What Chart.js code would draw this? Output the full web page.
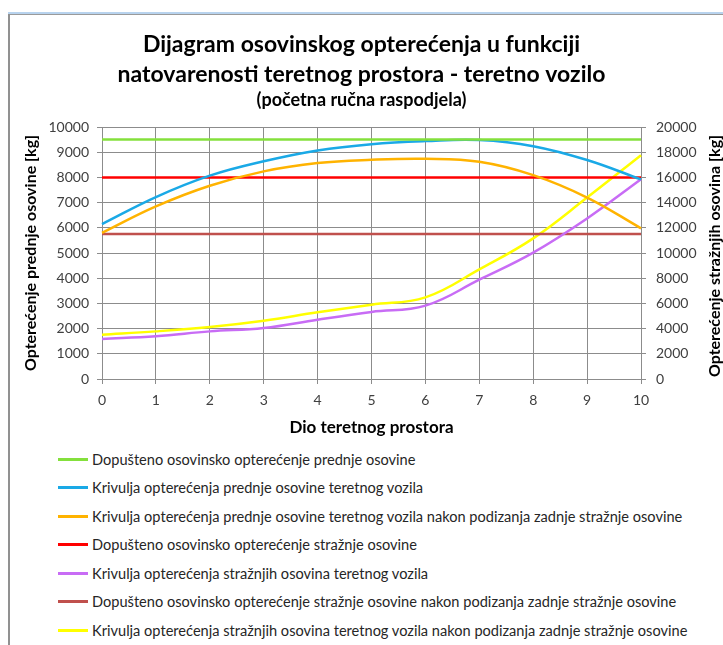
<!DOCTYPE html>
<html lang="hr">
<head>
    <meta charset="UTF-8">
    <title>Dijagram osovinskog opterećenja</title>
    <script src="https://cdn.jsdelivr.net/npm/chart.js@4.4.1/dist/chart.umd.min.js"></script>
    <style>
        body {
            margin: 0;
            background: #ffffff;
            font-family: Lato, sans-serif;
        }
        .page {
            position: relative;
            width: 723px;
            height: 645px;
            overflow: hidden;
        }
        .frame-top {
            position: absolute;
            left: 8px;
            top: 12px;
            width: 715px;
            height: 2px;
            background: #b8d3ee;
            border-bottom: 1px solid #9a9a9a;
        }
        .frame-left {
            position: absolute;
            left: 8px;
            top: 14px;
            width: 2px;
            height: 640px;
            background: #919191;
        }
        .chart-box {
            position: absolute;
            left: 0;
            top: 0;
            width: 723px;
            height: 445px;
        }
        #legend {
            position: absolute;
            left: 58px;
            top: 445px;
        }
        .legend-row {
            display: flex;
            align-items: center;
            height: 28.5px;
            font-size: 14.6px;
            color: #262626;
            white-space: nowrap;
        }
        .legend-line {
            width: 30px;
            height: 3px;
            margin-right: 4px;
        }
    </style>
</head>
<body>
<div class="page">
    <div class="chart-box"><canvas id="chart"></canvas></div>
    <div class="frame-top"></div>
    <div class="frame-left"></div>
    <div id="legend"></div>
</div>

<script>
    // x = dio teretnog prostora
    const xLabels = ['0', '1', '2', '3', '4', '5', '6', '7', '8', '9', '10'];

    // prednja osovina [kg] - lijeva os
    const dopustenoPrednja = [9500, 9500, 9500, 9500, 9500, 9500, 9500, 9500, 9500, 9500, 9500];
    const prednjaOsovina = [6150, 7220, 8070, 8640, 9070, 9320, 9440, 9480, 9240, 8690, 7920];
    const prednjaNakonPodizanja = [5800, 6850, 7670, 8240, 8570, 8700, 8740, 8620, 8090, 7200, 5980];

    // straznje osovine [kg] - desna os
    const dopustenoStraznja = [16000, 16000, 16000, 16000, 16000, 16000, 16000, 16000, 16000, 16000, 16000];
    const straznjeOsovine = [3180, 3390, 3780, 4050, 4710, 5320, 5820, 7880, 10030, 12740, 15850];
    const dopustenoStraznjaNakon = [11500, 11500, 11500, 11500, 11500, 11500, 11500, 11500, 11500, 11500, 11500];
    const straznjeNakonPodizanja = [3520, 3780, 4130, 4630, 5290, 5900, 6480, 8700, 11160, 14400, 17760];

    const rightTitle = 'Opterećenje stražnjih osovina [kg]';

    function line(label, data, color, axis, smooth) {
        return {
            label: label,
            data: data,
            borderColor: color,
            backgroundColor: color,
            borderWidth: 2.5,
            pointRadius: 0,
            tension: smooth ? 0.4 : 0,
            fill: false,
            yAxisID: axis
        };
    }

    // desni naslov osi, citljiv odozdo prema gore kao i lijevi
    const rightTitlePlugin = {
        id: 'rightTitle',
        afterDraw(chart) {
            const area = chart.chartArea;
            const ctx = chart.ctx;
            ctx.save();
            ctx.translate(715, (area.top + area.bottom) / 2 + 3);
            ctx.rotate(-Math.PI / 2);
            ctx.font = 'bold 16px Lato';
            ctx.fillStyle = '#000000';
            ctx.textAlign = 'center';
            ctx.textBaseline = 'middle';
            ctx.fillText(rightTitle, 0, 0);
            ctx.restore();
        }
    };

    const tickFont = { family: 'Lato', size: 14 };
    const plain = v => String(v);

    const chart = new Chart(document.getElementById('chart'), {
        type: 'line',
        data: {
            labels: xLabels,
            datasets: [
                line('Dopušteno osovinsko opterećenje prednje osovine', dopustenoPrednja, '#84e03c', 'y', false),
                line('Krivulja opterećenja prednje osovine teretnog vozila', prednjaOsovina, '#1aa9e6', 'y', true),
                line('Krivulja opterećenja prednje osovine teretnog vozila nakon podizanja zadnje stražnje osovine', prednjaNakonPodizanja, '#ffb300', 'y', true),
                line('Dopušteno osovinsko opterećenje stražnje osovine', dopustenoStraznja, '#ff0000', 'y1', false),
                line('Krivulja opterećenja stražnjih osovina teretnog vozila', straznjeOsovine, '#c86cf5', 'y1', true),
                line('Dopušteno osovinsko opterećenje stražnje osovine nakon podizanja zadnje stražnje osovine', dopustenoStraznjaNakon, '#c0504d', 'y1', false),
                line('Krivulja opterećenja stražnjih osovina teretnog vozila nakon podizanja zadnje stražnje osovine', straznjeNakonPodizanja, '#ffff00', 'y1', true)
            ]
        },
        options: {
            responsive: true,
            maintainAspectRatio: false,
            animation: false,
            layout: {
                padding: { top: 0, left: 0, right: 0, bottom: 0 }
            },
            plugins: {
                legend: { display: false },
                tooltip: { enabled: false },
                title: {
                    display: true,
                    text: ['Dijagram osovinskog opterećenja u funkciji', 'natovarenosti teretnog prostora - teretno vozilo'],
                    color: '#000000',
                    font: { family: 'Lato', size: 23, weight: 'bold', lineHeight: '30px' },
                    padding: { top: 30, bottom: 0 }
                },
                subtitle: {
                    display: true,
                    text: '(početna ručna raspodjela)',
                    color: '#000000',
                    font: { family: 'Lato', size: 18, weight: 'bold', lineHeight: '20px' },
                    padding: { top: 0, bottom: 17 }
                }
            },
            scales: {
                x: {
                    offset: false,
                    grid: { color: '#8c8c8c', tickLength: 5 },
                    border: { color: '#8c8c8c' },
                    ticks: { color: '#404040', font: tickFont, padding: 8, maxRotation: 0 },
                    title: {
                        display: true,
                        text: 'Dio teretnog prostora',
                        color: '#000000',
                        font: { family: 'Lato', size: 17, weight: 'bold' },
                        padding: { top: 4, bottom: 7 }
                    },
                    afterFit(scale) { scale.height = 66; }
                },
                y: {
                    position: 'left',
                    min: 0,
                    max: 10000,
                    grid: { color: '#8c8c8c', tickLength: 5 },
                    border: { color: '#8c8c8c' },
                    ticks: { stepSize: 1000, color: '#404040', font: tickFont, padding: 8, callback: plain },
                    title: {
                        display: true,
                        text: 'Opterećenje prednje osovine [kg]',
                        color: '#000000',
                        font: { family: 'Lato', size: 16, weight: 'bold' },
                        padding: { top: 21, bottom: 0 }
                    },
                    afterFit(scale) { scale.width = 102; }
                },
                y1: {
                    position: 'right',
                    min: 0,
                    max: 20000,
                    grid: { drawOnChartArea: false, color: '#8c8c8c', tickLength: 5 },
                    border: { color: '#8c8c8c' },
                    ticks: { stepSize: 2000, color: '#404040', font: tickFont, padding: 10, callback: plain },
                    afterFit(scale) { scale.width = 82; }
                }
            }
        },
        plugins: [rightTitlePlugin]
    });

    // legenda u jednom stupcu ispod grafa
    const legendEl = document.getElementById('legend');
    chart.data.datasets.forEach(ds => {
        const row = document.createElement('div');
        row.className = 'legend-row';
        const swatch = document.createElement('span');
        swatch.className = 'legend-line';
        swatch.style.background = ds.borderColor;
        const text = document.createElement('span');
        text.textContent = ds.label;
        row.appendChild(swatch);
        row.appendChild(text);
        legendEl.appendChild(row);
    });
</script>
</body>
</html>
